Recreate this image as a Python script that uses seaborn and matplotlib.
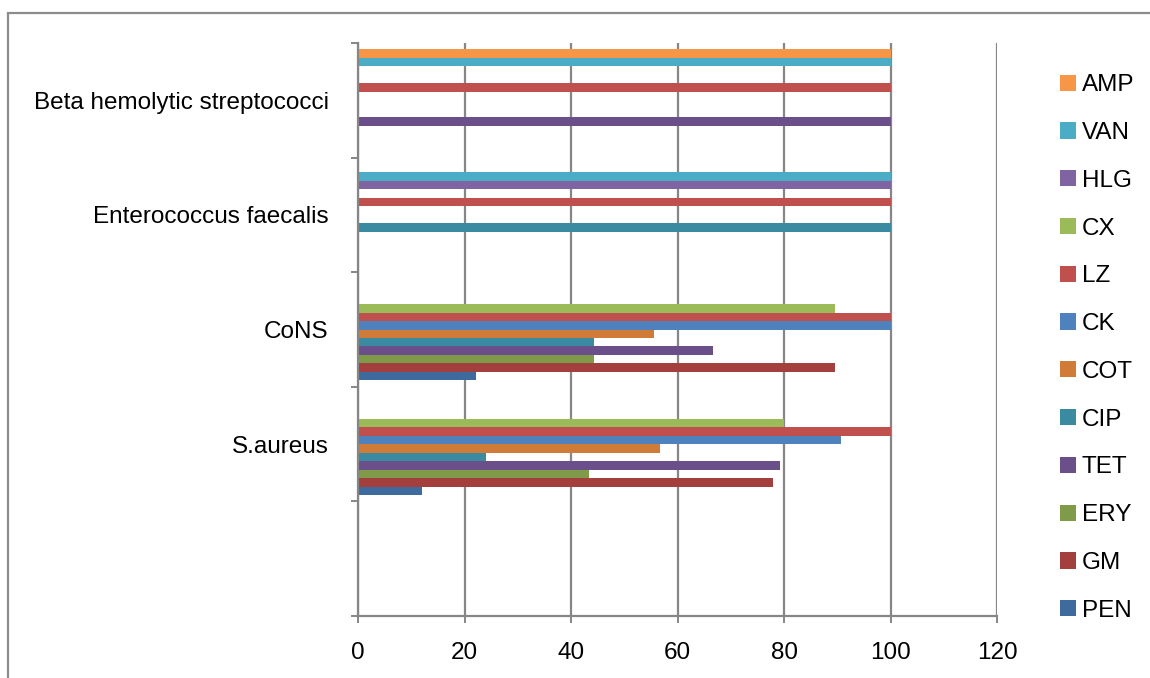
import matplotlib
matplotlib.use("Agg")
import matplotlib.pyplot as plt
from matplotlib.patches import Rectangle
from matplotlib.ticker import FixedLocator, NullFormatter
import seaborn as sns
import pandas as pd

# Organisms, top to bottom
organisms = ["Beta hemolytic streptococci", "Enterococcus faecalis", "CoNS", "S.aureus"]

# Percent sensitivity per antibiotic, in the same organism order
PEN = [0, 0, 22.2, 12]
GM = [0, 0, 89.6, 77.9]
ERY = [0, 0, 44.4, 43.4]
TET = [100, 0, 66.7, 79.2]
CIP = [0, 100, 44.4, 24]
COT = [0, 0, 55.6, 56.7]
CK = [0, 0, 100, 90.7]
LZ = [100, 100, 100, 100]
CX = [0, 0, 89.6, 80]
HLG = [0, 100, 0, 0]
VAN = [100, 100, 0, 0]
AMP = [100, 0, 0, 0]

drugs = ["AMP", "VAN", "HLG", "CX", "LZ", "CK", "COT", "CIP", "TET", "ERY", "GM", "PEN"]
series = {"PEN": PEN, "GM": GM, "ERY": ERY, "TET": TET, "CIP": CIP, "COT": COT,
          "CK": CK, "LZ": LZ, "CX": CX, "HLG": HLG, "VAN": VAN, "AMP": AMP}
colors = {"PEN": "#3F6A9E", "GM": "#A3403D", "ERY": "#7F9A48", "TET": "#6A4F8A",
          "CIP": "#3A8BA2", "COT": "#D07C38", "CK": "#4F81BD", "LZ": "#C0504D",
          "CX": "#9BBB59", "HLG": "#8064A2", "VAN": "#4BACC6", "AMP": "#F79646"}

x_ticks = [0, 20, 40, 60, 80, 100, 120]

rows = []
for d in drugs:
    for org, v in zip(organisms, series[d]):
        rows.append({"organism": org, "drug": d, "value": v})
df = pd.DataFrame(rows)

sns.set_style("white")
plt.rcParams["font.family"] = ["Liberation Sans", "DejaVu Sans"]
plt.rcParams["text.color"] = "black"
plt.rcParams["xtick.color"] = "black"
plt.rcParams["ytick.color"] = "black"
FS = 17.5

fig = plt.figure(figsize=(11.5, 6.78), dpi=100)
ax = fig.add_axes([358 / 1150, 1 - 616 / 678, (997 - 358) / 1150, (616 - 43) / 678])

sns.barplot(data=df, x="value", y="organism", hue="drug", order=organisms,
            hue_order=drugs, palette=colors, orient="h", width=0.89, gap=0,
            saturation=1, linewidth=0, ax=ax, legend=True)

grey = "#868686"
ax.set_xlim(0, 120)
ax.set_xticks(x_ticks)
ax.set_ylim(len(organisms) + 0.5, -0.5)
ax.set_xlabel("")
ax.set_ylabel("")

ax.set_axisbelow(True)
ax.grid(axis="x", color=grey, linewidth=1.6)
ax.grid(axis="y", visible=False)

for s in ["top", "right"]:
    ax.spines[s].set_visible(False)
for s in ["left", "bottom"]:
    ax.spines[s].set_color(grey)
    ax.spines[s].set_linewidth(1.6)

ax.tick_params(axis="x", which="major", length=5, width=1.4, color=grey,
               labelsize=FS, pad=14, direction="out", bottom=True, labelcolor="black")
ax.tick_params(axis="y", which="major", length=0, labelsize=FS, pad=21, labelcolor="black")
ax.yaxis.set_minor_locator(FixedLocator([i - 0.5 for i in range(len(organisms) + 2)]))
ax.yaxis.set_minor_formatter(NullFormatter())
ax.tick_params(axis="y", which="minor", length=5, width=1.4, color=grey, left=True)

handles, labels = ax.get_legend_handles_labels()
leg = ax.legend(handles, labels, loc="center left", bbox_to_anchor=(1060 / 1150, 1 - 348 / 678),
                bbox_transform=fig.transFigure, frameon=False, fontsize=FS,
                handlelength=0.65, handleheight=0.65, handletextpad=0.25, labelspacing=1.06,
                borderaxespad=0, borderpad=0)
for t in leg.get_texts():
    t.set_color("black")

# Chart frame
fig.add_artist(Rectangle((8 / 1150, -0.2), 1.5, 1.2 - 13 / 678, transform=fig.transFigure,
                         fill=False, edgecolor="#8c8c8c", linewidth=1.6))

fig.savefig("out.png", dpi=100)
